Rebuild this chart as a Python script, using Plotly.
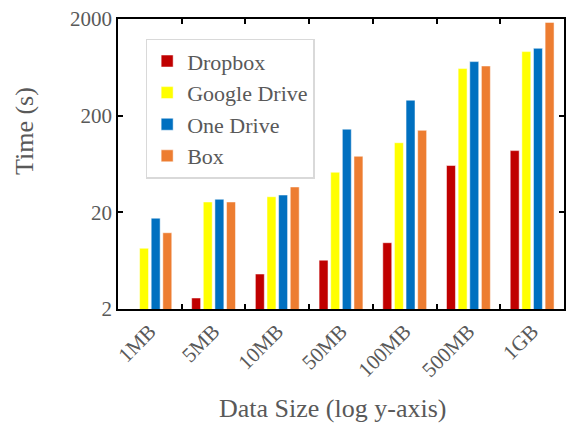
import plotly.graph_objects as go

categories = ["1MB", "5MB", "10MB", "50MB", "100MB", "500MB", "1GB"]
dropbox = [1.6, 2.6, 4.6, 6.4, 9.7, 61, 87]
google_drive = [8.5, 25.6, 29, 52, 105, 614, 920]
one_drive = [17.4, 27.3, 30.2, 145, 289, 725, 995]
box = [12.3, 25.6, 36.6, 76, 141, 653, 1845]

series = [
    ("Dropbox", dropbox, "#C00000"),
    ("Google Drive", google_drive, "#FFFF00"),
    ("One Drive", one_drive, "#0070C0"),
    ("Box", box, "#ED7D31"),
]

FONT = "Liberation Serif"
GRAY = "#595959"

fig = go.Figure()
for name, vals, col in series:
    fig.add_trace(go.Bar(
        x=categories, y=vals, name=name,
        marker=dict(color=col, line=dict(color="rgba(255,255,255,0.5)", width=1)),
    ))

fig.update_layout(
    width=568, height=424,
    margin=dict(l=118, r=2, t=19, b=115),
    paper_bgcolor="white", plot_bgcolor="white",
    barmode="group", bargap=0.27, bargroupgap=0.23,
    font=dict(family=FONT, color=GRAY, size=21),
    legend=dict(
        x=0.062, y=0.932, xanchor="left", yanchor="top",
        bgcolor="white", bordercolor="#d9d9d9", borderwidth=1.5,
        font=dict(family=FONT, size=22, color=GRAY),
        tracegroupgap=0,
    ),
    showlegend=True,
)

fig.update_xaxes(
    type="category",
    tickangle=-45,
    ticks="inside", ticklen=5, tickwidth=1.5, tickcolor="black",
    tickson="boundaries",
    showline=True, linecolor="black", linewidth=1.5, mirror="ticks",
    tickfont=dict(family=FONT, size=21, color=GRAY),
    showgrid=False,
)
fig.update_yaxes(
    type="log",
    range=[0.30103, 3.30103],
    tickvals=[2, 20, 200, 2000],
    ticktext=["2", "20", "200", "2000"],
    ticks="inside", ticklen=5, tickwidth=1.5, tickcolor="black",
    showline=True, linecolor="black", linewidth=1.5, mirror="ticks",
    tickfont=dict(family=FONT, size=21, color=GRAY),
    showgrid=False, zeroline=False,
)

fig.add_annotation(
    text="Time (s)", textangle=-90,
    xref="paper", yref="paper", x=-0.21, y=0.615,
    xanchor="center", yanchor="middle", showarrow=False,
    font=dict(family=FONT, size=26, color=GRAY),
)
fig.add_annotation(
    text="Data Size (log y-axis)",
    xref="paper", yref="paper", x=0.4805, y=-0.343,
    xanchor="center", yanchor="middle", showarrow=False,
    font=dict(family=FONT, size=26, color=GRAY),
)

fig.write_html("out.html")
